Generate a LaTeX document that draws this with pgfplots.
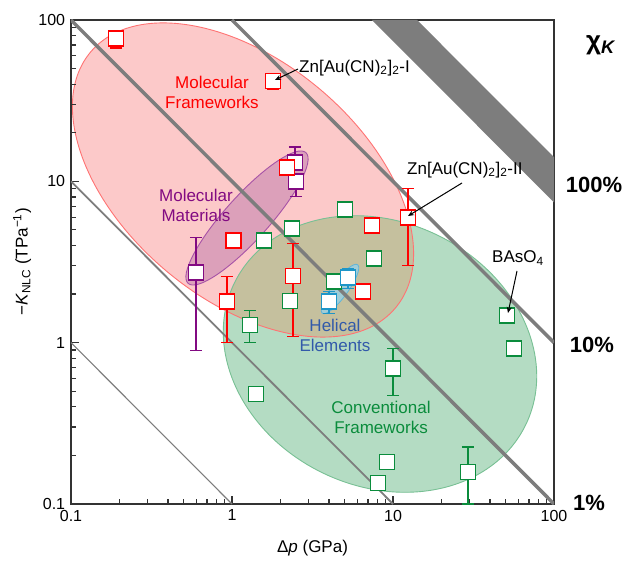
\documentclass[border=0pt]{standalone}
\usepackage{pgfplots}
\pgfplotsset{compat=1.18}
\usepackage{fontspec}
\setmainfont{Liberation Sans}
\usetikzlibrary{arrows.meta}
\definecolor{cred}{RGB}{255,0,0}
\definecolor{cgreen}{RGB}{10,140,60}
\definecolor{cpurple}{RGB}{130,10,130}
\definecolor{cblue}{RGB}{30,150,200}
\definecolor{ctblue}{RGB}{50,90,170}
\definecolor{cgray}{RGB}{125,125,125}
\definecolor{pinkfill}{RGB}{252,201,201}
\definecolor{greenfill}{RGB}{180,220,195}
\definecolor{khaki}{RGB}{197,192,158}
\definecolor{purplefill}{RGB}{220,160,186}
\definecolor{bluefill}{RGB}{160,205,215}
\begin{document}
\fontsize{17bp}{20bp}\selectfont
\begin{tikzpicture}[x=1bp,y=1bp]
\useasboundingbox (-71,-61) rectangle (551,504);
% regions (ellipses in log space)
\tikzset{
  gell/.style={rotate around={-26:(309,150)}},
  pell/.style={rotate around={-40:(172,324)}},
}
\fill[greenfill, gell] (309,150) ellipse [x radius=162, y radius=132];
\fill[pinkfill, pell] (172,324) ellipse [x radius=199, y radius=119];
\begin{scope}
\clip[pell] (172,324) ellipse [x radius=199, y radius=119];
\fill[khaki, gell] (309,150) ellipse [x radius=162, y radius=132];
\end{scope}
\draw[cgreen!55, line width=0.9bp, gell] (309,150) ellipse [x radius=162, y radius=132];
\draw[cred!55, line width=0.9bp, pell] (172,324) ellipse [x radius=199, y radius=119];
\filldraw[fill=purplefill, draw=cpurple!70, line width=0.9bp, rotate around={48:(176,286)}] (176,286) ellipse [x radius=88, y radius=22];
\filldraw[fill=bluefill, draw=cblue!70, line width=0.8bp, rotate around={54:(269,215)}] (269,215) ellipse [x radius=30, y radius=8];
\begin{axis}[
  at={(0,0)}, anchor=south west,
  width=483bp, height=484bp, scale only axis,
  xmode=log, ymode=log,
  xmin=0.1, xmax=100, ymin=0.1, ymax=100,
  xtick={0.1,1,10,100}, xticklabels={0.1,1,10,100},
  ytick={0.1,1,10,100}, yticklabels={0.1,1,10,100},
  xtick pos=bottom, ytick pos=left,
  tick align=inside,
  major tick length=8bp, minor tick length=5bp,
  every tick/.style={black!80, line width=1.2bp},
  axis line style={black!80, line width=1.5bp},
  /pgf/number format/assume math mode=true,
  tick label style={font=\fontsize{16bp}{18bp}\selectfont},
  xlabel={Δ\textit{p} (GPa)},
  ylabel={−\textit{K}\textsubscript{NLC} (TPa\textsuperscript{−1})},
  xlabel style={at={(axis description cs:0.5,-0.091)}, anchor=center},
  ylabel style={at={(axis description cs:-0.101,0.5)}, anchor=center},
  clip=true,
]
% constant chi_K guide lines
\addplot[cgray, line width=1.1bp] coordinates {(0.1,1) (1,0.1)};
\addplot[cgray, line width=1.8bp] coordinates {(0.1,10) (10,0.1)};
\addplot[cgray, line width=3.5bp] coordinates {(0.1,100) (100,0.1)};
\addplot[cgray, line width=3.5bp] coordinates {(1,100) (100,1)};
\addplot[fill=cgray, draw=none] coordinates {(7.4,100) (14.1,100) (100,14.1) (100,7.4)} -- cycle;
% Molecular frameworks
\addplot[only marks, mark=square*, mark size=7.5bp,
  mark options={fill=white, draw=cred, line width=1.4bp},
  error bars/.cd, y dir=both, y explicit,
  error bar style={cred, line width=1.3bp},
  error mark options={rotate=90, mark size=6bp, cred, line width=1.3bp}]
coordinates {
 (0.19,77) += (0,0) -= (0,10)
 (1.8,42) += (0,0) -= (0,5)
 (0.93,1.8) += (0,0.77) -= (0,0.8)
 (2.39,2.6) += (0,1.52) -= (0,1.51)
 (12.4,5.97) += (0,3.1) -= (0,2.97)
 (1.02,4.3)
 (7.41,5.33)
 (6.5,2.07)
};
% Molecular materials
\addplot[only marks, mark=square*, mark size=7.5bp,
  mark options={fill=white, draw=cpurple, line width=1.4bp},
  error bars/.cd, y dir=both, y explicit,
  error bar style={cpurple, line width=1.3bp},
  error mark options={rotate=90, mark size=6bp, cpurple, line width=1.3bp}]
coordinates {
 (0.597,2.72) += (0,1.77) -= (0,1.83)
 (2.46,13.1) += (0,3.2) -= (0,0)
 (2.5,10.0) += (0,0) -= (0,1.93)
};
\addplot[only marks, mark=square*, mark size=7.5bp,
  mark options={fill=white, draw=cred, line width=1.4bp}]
coordinates {(2.2,12.2)};
% Conventional frameworks
\addplot[only marks, mark=square*, mark size=7.5bp,
  mark options={fill=white, draw=cgreen, line width=1.4bp},
  error bars/.cd, y dir=both, y explicit,
  error bar style={cgreen, line width=1.3bp},
  error mark options={rotate=90, mark size=6bp, cgreen, line width=1.3bp}]
coordinates {
 (1.58,4.3)
 (2.36,5.1) += (0,0) -= (0,0.4)
 (2.29,1.82)
 (1.29,1.29) += (0,0.29) -= (0,0.29)
 (5.04,6.7)
 (7.6,3.33)
 (4.3,2.39)
 (51,1.47)
 (56.5,0.92)
 (10,0.69) += (0,0.23) -= (0,0.22)
 (9.2,0.182)
 (8.07,0.135)
 (29.2,0.158) += (0,0.068) -= (0,0.058)
 (1.41,0.48)
};
% Helical elements
\addplot[only marks, mark=square*, mark size=7.5bp,
  mark options={fill=white, draw=cblue, line width=1.4bp},
  error bars/.cd, y dir=both, y explicit,
  error bar style={cblue, line width=1.3bp},
  error mark options={rotate=90, mark size=6bp, cblue, line width=1.3bp}]
coordinates {
 (5.25,2.54) += (0,0.34) -= (0,0.38)
 (4.0,1.8) += (0,0.27) -= (0,0.29)
};
\end{axis}
% annotations
\node[cred, align=center] at (141,412) {Molecular\\Frameworks};
\node[cpurple, align=center] at (125,299) {Molecular\\Materials};
\node[ctblue, align=center] at (264,169) {Helical\\Elements};
\node[cgreen, align=center] at (310,87) {Conventional\\Frameworks};
\node[anchor=west, inner sep=0] at (228,436) {Zn[Au(CN)\textsubscript{2}]\textsubscript{2}-I};
\draw[line width=1bp, -{Stealth[length=6bp,width=5bp]}] (227,435) -- (204,424);
\node[anchor=west, inner sep=0] at (336,334) {Zn[Au(CN)\textsubscript{2}]\textsubscript{2}-II};
\draw[line width=1bp, -{Stealth[length=6bp,width=5bp]}] (391,321) -- (337,288);
\node at (447,246) {BAsO\textsubscript{4}};
\draw[line width=1bp, -{Stealth[length=6bp,width=5bp]}] (446,233) -- (437,191);
\node[font=\bfseries\fontsize{26bp}{28bp}\selectfont] at (530,459) {χ\textsubscript{\textit{K}}};
\node[font=\bfseries\fontsize{22bp}{24bp}\selectfont] at (523,319) {100\%};
\node[font=\bfseries\fontsize{22bp}{24bp}\selectfont] at (521,159) {10\%};
\node[font=\bfseries\fontsize{22bp}{24bp}\selectfont] at (518,1) {1\%};
\end{tikzpicture}
\end{document}
